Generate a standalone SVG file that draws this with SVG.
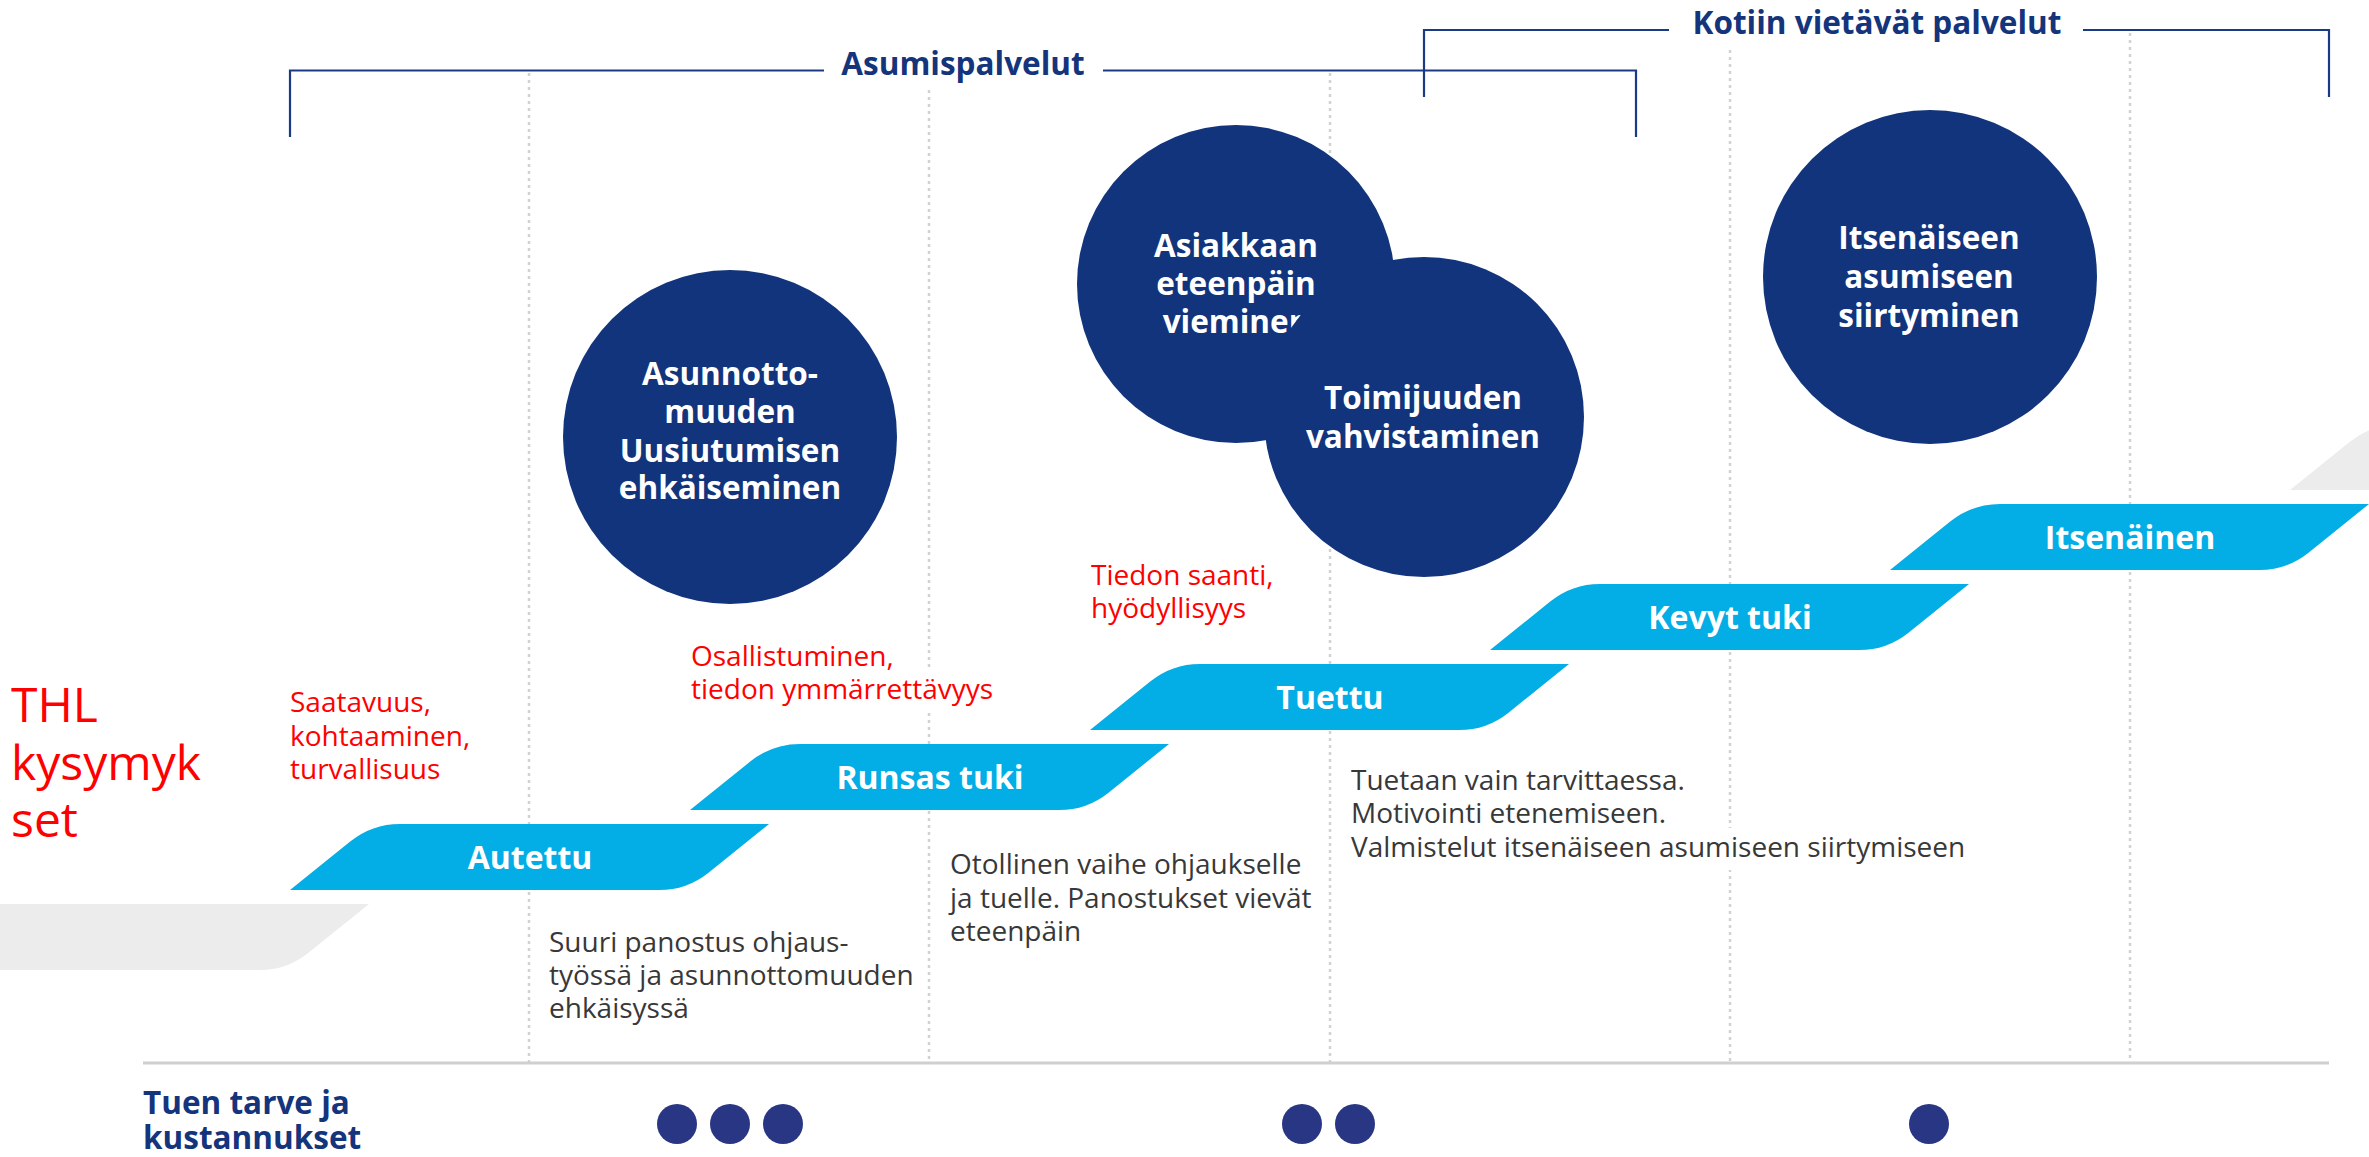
<svg xmlns="http://www.w3.org/2000/svg" width="2369" height="1157" viewBox="0 0 2369 1157">
<style>
text{font-family:"Open Sans","Noto Sans","DejaVu Sans",sans-serif}
.grid{stroke:#d2d2d2;stroke-width:2.5;stroke-dasharray:3 4;fill:none}
.brk{stroke:#1a3a85;stroke-width:2.2;fill:none}
.hdr{fill:#14347c;font-weight:700;font-size:31.5px;text-anchor:middle}
.circ{fill:#12347c}
.ctx{fill:#fff;font-weight:700;font-size:31.5px;text-anchor:middle}
.step{fill:#03ade5}
.gstep{fill:#ececec}
.stx{fill:#fff;font-weight:700;font-size:32px;text-anchor:middle}
.red{fill:#ff0000;font-size:28px}
.desc{fill:#383838;font-size:28px}
.dot{fill:#293683}
.foot{fill:#14347c;font-weight:700;font-size:31.5px}
</style>
<defs>
<path id="stepShape" d="M0,66 L60.2,17.6 Q82,0 110,0 L479,0 L418.8,48.4 Q397,66 369,66 Z"/>
</defs>
<rect width="2369" height="1157" fill="#fff"/>

<g id="connectors">
<line class="grid" x1="529" y1="73" x2="529" y2="1062"/>
<line class="grid" x1="929" y1="90" x2="929" y2="1062"/>
<line class="grid" x1="1330" y1="73" x2="1330" y2="1062"/>
<line class="grid" x1="1730" y1="50" x2="1730" y2="1062"/>
<line class="grid" x1="2130" y1="33" x2="2130" y2="1062"/>
<line x1="143" y1="1063" x2="2329" y2="1063" stroke="#cfcfcf" stroke-width="3"/>
<path class="brk" d="M290,137 V70.5 H824 M1103,70.5 H1636 V137"/>
<path class="brk" d="M1424,97 V30 H1669 M2083,30 H2329 V97"/>
</g>

<g id="header-asumispalvelut"><text class="hdr" x="963" y="75">Asumispalvelut</text></g>
<g id="header-kotiin"><text class="hdr" x="1877" y="34">Kotiin vietävät palvelut</text></g>

<g id="gray-steps">
<use href="#stepShape" class="gstep" x="-110" y="904"/>
<use href="#stepShape" class="gstep" x="2290" y="424"/>
</g>

<g id="step-autettu"><use href="#stepShape" class="step" x="290" y="824"/><text class="stx" x="530" y="869">Autettu</text></g>
<g id="step-runsas"><use href="#stepShape" class="step" x="690" y="744"/><text class="stx" x="930" y="789">Runsas tuki</text></g>
<g id="step-tuettu"><use href="#stepShape" class="step" x="1090" y="664"/><text class="stx" x="1330" y="709">Tuettu</text></g>
<g id="step-kevyt"><use href="#stepShape" class="step" x="1490" y="584"/><text class="stx" x="1730" y="629">Kevyt tuki</text></g>
<g id="step-itsenainen"><use href="#stepShape" class="step" x="1890" y="504"/><text class="stx" x="2130" y="549">Itsenäinen</text></g>

<g id="circle-asunnottomuus">
<circle class="circ" cx="730" cy="437" r="167"/>
<text class="ctx" x="730" y="385">Asunnotto-</text>
<text class="ctx" x="730" y="423">muuden</text>
<text class="ctx" x="730" y="462">Uusiutumisen</text>
<text class="ctx" x="730" y="499">ehkäiseminen</text>
</g>
<g id="circle-asiakkaan">
<circle class="circ" cx="1236" cy="284" r="159"/>
<text class="ctx" x="1236" y="257">Asiakkaan</text>
<text class="ctx" x="1236" y="295">eteenpäin</text>
<text class="ctx" x="1236" y="333">vieminen</text>
</g>
<g id="circle-toimijuus">
<circle class="circ" cx="1424" cy="417" r="160"/>
<text class="ctx" x="1423" y="409">Toimijuuden</text>
<text class="ctx" x="1423" y="448">vahvistaminen</text>
</g>
<g id="circle-itsenaiseen">
<circle class="circ" cx="1930" cy="277" r="167"/>
<text class="ctx" x="1929" y="249">Itsenäiseen</text>
<text class="ctx" x="1929" y="288">asumiseen</text>
<text class="ctx" x="1929" y="327">siirtyminen</text>
</g>

<g id="thl-label">
<text fill="#ff0000" font-size="48" x="11" y="722">THL</text>
<text fill="#ff0000" font-size="48" x="11" y="780">kysymyk</text>
<text fill="#ff0000" font-size="48" x="11" y="837">set</text>
</g>
<g id="q-autettu">
<text class="red" x="290" y="712">Saatavuus,</text>
<text class="red" x="290" y="746">kohtaaminen,</text>
<text class="red" x="290" y="779">turvallisuus</text>
</g>
<g id="q-runsas">
<rect x="918" y="670" width="22" height="40" fill="#fff"/>
<text class="red" x="691" y="666">Osallistuminen,</text>
<text class="red" x="691" y="699">tiedon ymmärrettävyys</text>
</g>
<g id="q-tuettu">
<text class="red" x="1091" y="585">Tiedon saanti,</text>
<text class="red" x="1091" y="618">hyödyllisyys</text>
</g>

<g id="desc-autettu">
<text class="desc" x="549" y="952">Suuri panostus ohjaus-</text>
<text class="desc" x="549" y="985">työssä ja asunnottomuuden</text>
<text class="desc" x="549" y="1018">ehkäisyssä</text>
</g>
<g id="desc-runsas">
<text class="desc" x="950" y="874">Otollinen vaihe ohjaukselle</text>
<text class="desc" x="950" y="908">ja tuelle. Panostukset vievät</text>
<text class="desc" x="950" y="941">eteenpäin</text>
</g>
<g id="desc-tuettu">
<rect x="1719" y="828" width="22" height="42" fill="#fff"/>
<text class="desc" x="1351" y="790">Tuetaan vain tarvittaessa.</text>
<text class="desc" x="1351" y="823">Motivointi etenemiseen.</text>
<text class="desc" x="1351" y="857">Valmistelut itsenäiseen asumiseen siirtymiseen</text>
</g>

<g id="footer-label">
<text class="foot" x="143" y="1114">Tuen tarve ja</text>
<text class="foot" x="143" y="1149">kustannukset</text>
</g>
<g id="cost-dots">
<circle class="dot" cx="677" cy="1124" r="20"/>
<circle class="dot" cx="730" cy="1124" r="20"/>
<circle class="dot" cx="783" cy="1124" r="20"/>
<circle class="dot" cx="1302" cy="1124" r="20"/>
<circle class="dot" cx="1355" cy="1124" r="20"/>
<circle class="dot" cx="1929" cy="1124" r="20"/>
</g>
</svg>
